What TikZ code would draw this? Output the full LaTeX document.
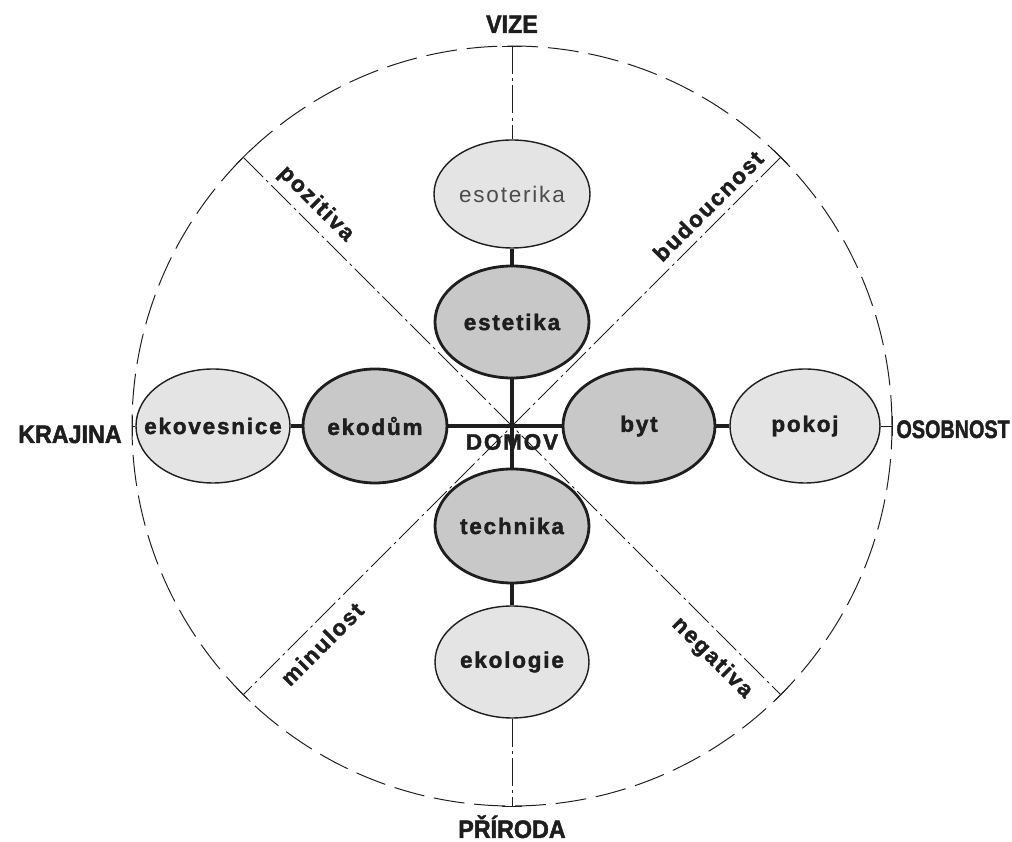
\documentclass[tikz,border=0pt]{standalone}
\usepackage{fontspec}
\setmainfont{Liberation Sans}
\newfontfamily\spacedfont[LetterSpace=8, BoldFeatures={FakeBold=1.8}]{Liberation Sans}
\newfontfamily\heavyfont[FakeStretch=0.92, BoldFeatures={FakeBold=1.8}]{Liberation Sans}
\usetikzlibrary{shapes.geometric}
\definecolor{lightfill}{HTML}{E4E4E4}
\definecolor{darkfill}{HTML}{C8C8C8}
\definecolor{inkgray}{HTML}{1E1E1E}

\begin{document}
\begin{tikzpicture}
          \tikzstyle{outer}=[draw=inkgray, ellipse, fill=lightfill, line width=1pt, inner sep=-16pt, minimum width=3.85cm, minimum height=2.8cm, text=inkgray, font=\spacedfont\bfseries\fontsize{16}{18}\selectfont]
          \tikzstyle{inner}=[outer, fill=darkfill, line width=2pt]
          \tikzstyle{axis}=[text=inkgray, inner sep=0pt, font=\heavyfont\bfseries\fontsize{18}{20}\selectfont]
          \tikzstyle{side}=[text=inkgray, font=\spacedfont\bfseries\fontsize{16}{18}\selectfont]
          \tikzstyle{guide}=[inkgray, line width=0.6pt, dash pattern=on 20pt off 3pt on 2pt off 3pt]
          \tikzstyle{link}=[inkgray, line width=2.8pt]

          \useasboundingbox (-12.8, -10.4) rectangle (12.5, 10.65);

          \coordinate (O) at (0, 0);
          \coordinate (N) at (0, 9.5);
          \coordinate (S) at (0, -9.5);
          \coordinate (W) at (-9.5, 0);
          \coordinate (E) at (9.5, 0);
          \coordinate (NW) at (135:9.5);
          \coordinate (NE) at (45:9.5);
          \coordinate (SW) at (225:9.5);
          \coordinate (SE) at (315:9.5);

          \draw[inkgray, line width=0.7pt, dash pattern=on 22pt off 7pt] (O) circle (9.5);

          \draw[guide] (NW) to (O) to (SE);
          \draw[guide] (NE) to (O) to (SW);
          \foreach \a in {0, 45, ..., 315}
            \draw[inkgray, line width=0.6pt] (\a:9.5) ++(\a+90:0.25) -- ++(\a-90:0.5);

          \node (esoterika) at (0, 5.8) [outer, minimum width=3.9cm, minimum height=2.7cm, font=\spacedfont\fontsize{16}{18}\selectfont, text=black!70] {esoterika};
          \node (estetika) at (0, 2.6) [inner] {estetika};
          \node (technika) at (0, -2.5) [inner, minimum height=2.85cm] {technika};
          \node (ekologie) at (0, -5.9) [outer] {ekologie};
          \node (ekovesnice) at (-7.475, 0) [outer, minimum height=2.85cm] {ekovesnice};
          \node (ekodum) at (-3.425, 0) [inner, minimum width=3.6cm, minimum height=2.85cm] {ekodům};
          \node (byt) at (3.175, 0) [inner, minimum width=3.8cm, minimum height=2.85cm] {byt};
          \node (pokoj) at (7.325, 0) [outer, minimum width=3.75cm, minimum height=2.85cm] {pokoj};

          \node (domov) at (0, -0.4) [text=inkgray, font=\spacedfont\bfseries\fontsize{16}{18}\selectfont] {DOMOV};

          \draw[guide] (N) to (esoterika);
          \draw[guide] (ekologie) to (S);
          \draw[guide] (W) to (ekovesnice);
          \draw[guide] (pokoj) to (E);

          \draw[link] (esoterika) to (estetika);
          \draw[link] (estetika) to (O);
          \draw[link] (O) to (technika);
          \draw[link] (technika) to (ekologie);
          \draw[link] (ekovesnice) to (ekodum);
          \draw[link] (ekodum) to (byt);
          \draw[link] (byt) to (pokoj);

          \node (vize) at (0, 9.825) [axis, anchor=base] {VIZE};
          \node (priroda) at (0, -10.3) [axis, anchor=base] {PŘÍRODA};
          \node (krajina) at (-9.75, -0.425) [axis, anchor=base east] {KRAJINA};
          \node (osobnost) at (12.45, -0.3) [axis, anchor=base east] {\scalebox{0.85}[1]{OSOBNOST}};

          \node (pozitiva) at (-4.9, 5.55) [side, rotate=-45] {pozitiva};
          \node (budoucnost) at (4.9, 5.5) [side, rotate=45] {budoucnost};
          \node (minulost) at (-4.75, -5.45) [side, rotate=45] {minulost};
          \node (negativa) at (5.0, -5.8) [side, rotate=-45] {negativa};
        \end{tikzpicture}
\end{document}
